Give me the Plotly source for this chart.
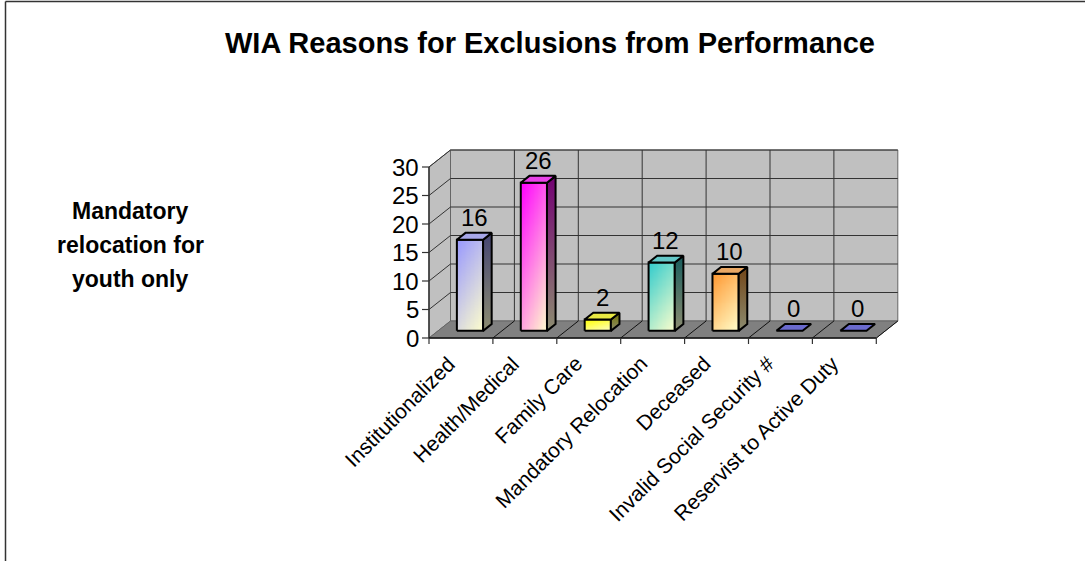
import numpy as np
import plotly.graph_objects as go

# ---- data -------------------------------------------------------------
categories = [
    "Institutionalized",
    "Health/Medical",
    "Family Care",
    "Mandatory Relocation",
    "Deceased",
    "Invalid Social Security #",
    "Reservist to Active Duty",
]
values = [16, 26, 2, 12, 10, 0, 0]
y_ticks = [0, 5, 10, 15, 20, 25, 30]
title_text = "WIA Reasons for Exclusions from Performance"
side_note = ["Mandatory", "relocation for", "youth only"]

# ---- styling ----------------------------------------------------------
bar_colors = ["#9999FF", "#FF00FF", "#FFFF00", "#33CCCC", "#FF9933", "#7070DD", "#7070DD"]
fade_color = "#FFFFCC"
wall_color = "#C0C0C0"
floor_color = "#808080"
grid_color = "#333333"
FONT = "Liberation Sans, Arial, sans-serif"

W, H = 1085, 561
PX_CAT, X0 = 63.9, 429.0        # pixels per category, left edge of front axis
PX_VAL, Y0 = 5.7, 338.0         # pixels per value unit, baseline of front axis
DEPTH_PX = (21.5, 17.0)         # oblique offset of the back wall
BAR_W = 0.41                    # bar width as fraction of category
D0, D1 = 0.42, 0.82             # bar depth span (0 = front, 1 = back wall)

x_range = [-X0 / PX_CAT, (W - X0) / PX_CAT]
y_range = [-(H - Y0) / PX_VAL, Y0 / PX_VAL]
DX = DEPTH_PX[0] / PX_CAT
DY = DEPTH_PX[1] / PX_VAL

n = len(categories)
vmax = y_ticks[-1]


def proj(c, v, d):
    """Oblique projection of (category, value, depth) onto the plane."""
    return c + d * DX, v + d * DY


def path(pts):
    return "M " + " L ".join(f"{x:.5f},{y:.5f}" for x, y in pts) + " Z"


def hex_rgb(h):
    h = h.lstrip("#")
    return tuple(int(h[i:i + 2], 16) for i in (0, 2, 4))


def mix(c1, c2, t):
    a, b = hex_rgb(c1), hex_rgb(c2)
    r = [round(a[i] * (1 - t) + b[i] * t) for i in range(3)]
    return "#%02X%02X%02X" % tuple(r)


def shade(c, k):
    a = hex_rgb(c)
    return "#%02X%02X%02X" % tuple(round(x * k) for x in a)


shapes = []
annotations = []


def seg(p, q, color=grid_color, width=1):
    shapes.append(dict(type="line", xref="x", yref="y", x0=p[0], y0=p[1], x1=q[0], y1=q[1],
                       line=dict(color=color, width=width), layer="below"))


# ---- walls and floor --------------------------------------------------
side_wall = [proj(0, 0, 0), proj(0, vmax, 0), proj(0, vmax, 1), proj(0, 0, 1)]
back_wall = [proj(0, 0, 1), proj(n, 0, 1), proj(n, vmax, 1), proj(0, vmax, 1)]
floor = [proj(0, 0, 0), proj(n, 0, 0), proj(n, 0, 1), proj(0, 0, 1)]
for poly, col in ((side_wall, wall_color), (back_wall, wall_color), (floor, floor_color)):
    shapes.append(dict(type="path", xref="x", yref="y", path=path(poly), fillcolor=col,
                       line=dict(color="#666666", width=1), layer="below"))

for v in y_ticks[1:]:
    seg(proj(0, v, 0), proj(0, v, 1))
    seg(proj(0, v, 1), proj(n, v, 1))
for k in range(1, n):
    seg(proj(k, 0, 1), proj(k, vmax, 1))
for k in range(1, n + 1):
    seg(proj(k, 0, 0), proj(k, 0, 1), color="#111111")

# front axes
seg(proj(0, 0, 0), proj(0, vmax, 0), color="#333333", width=1.5)
seg(proj(0, 0, 0), proj(n, 0, 0), color="#111111", width=1.5)
tick_x = 7 / PX_CAT
tick_y = 6 / PX_VAL
for v in y_ticks:
    seg((-tick_x, v), (0, v), color="#333333", width=1.2)
    annotations.append(dict(x=0, y=v, xref="x", yref="y", text=str(v), showarrow=False,
                            xanchor="right", yanchor="middle", xshift=-8,
                            font=dict(family=FONT, size=24, color="black")))
for k in range(n + 1):
    seg((k, 0), (k, -tick_y), color="#333333", width=1.2)

# ---- bars -------------------------------------------------------------
traces = []
nc, nr = 20, 60
for i, v in enumerate(values):
    col = bar_colors[i]
    cx0, cx1 = i + 0.5 - BAR_W / 2, i + 0.5 + BAR_W / 2
    top = [proj(cx0, v, D0), proj(cx1, v, D0), proj(cx1, v, D1), proj(cx0, v, D1)]
    if v > 0:
        fx0, fy0 = proj(cx0, 0, D0)
        fx1, fy1 = proj(cx1, v, D0)
        xe = np.linspace(fx0, fx1, nc + 1)
        ye = np.linspace(fy0, fy1, nr + 1)
        u = (np.arange(nc) + 0.5) / nc
        w = (np.arange(nr) + 0.5) / nr
        z = 0.35 * u[None, :] + 0.65 * (1 - w[:, None])
        traces.append(go.Heatmap(x=xe, y=ye, z=z, zmin=0, zmax=1, zsmooth="best",
                                 colorscale=[[0, col], [1, fade_color]], showscale=False,
                                 hoverinfo="skip"))
        front = [(fx0, fy0), (fx1, fy0), (fx1, fy1), (fx0, fy1)]
        fxs, fys = zip(*(front + front[:1]))
        traces.append(go.Scatter(x=fxs, y=fys, mode="lines", line=dict(color="black", width=2),
                                 hoverinfo="skip", showlegend=False))
        side = [proj(cx1, 0, D0), proj(cx1, 0, D1), proj(cx1, v, D1), proj(cx1, v, D0)]
        sxs, sys_ = zip(*(side + side[:1]))
        traces.append(go.Scatter(x=sxs, y=sys_, mode="lines", fill="toself",
                                 fillgradient=dict(type="vertical",
                                                   colorscale=[[0, shade(fade_color, 0.55)],
                                                               [1, shade(col, 0.45)]]),
                                 line=dict(color="black", width=2),
                                 hoverinfo="skip", showlegend=False))
        top_col = mix(col, "#C0C0C0", 0.35)
    else:
        top_col = mix(col, "#505090", 0.2)
    txs, tys = zip(*(top + top[:1]))
    traces.append(go.Scatter(x=txs, y=tys, mode="lines", fill="toself", fillcolor=top_col,
                             line=dict(color="black", width=2),
                             hoverinfo="skip", showlegend=False))
    lx, ly = proj(i + 0.5, v, (D0 + D1) / 2)
    annotations.append(dict(x=lx, y=ly, xref="x", yref="y", text=str(v), showarrow=False,
                            xanchor="center", yanchor="middle", yshift=19,
                            font=dict(family=FONT, size=24, color="black")))

# ---- category labels --------------------------------------------------
for i, name in enumerate(categories):
    annotations.append(dict(x=i + 0.5, y=0, xref="x", yref="y", text=name, showarrow=False,
                            textangle=-45, xanchor="right", yanchor="top",
                            xshift=1, yshift=-11,
                            font=dict(family=FONT, size=21, color="black")))

# ---- titles -----------------------------------------------------------
annotations.append(dict(x=550 / W, y=1 - 43 / H, xref="paper", yref="paper", text=f"<b>{title_text}</b>",
                        showarrow=False, xanchor="center", yanchor="middle",
                        font=dict(family=FONT, size=29, color="black")))
for j, line in enumerate(side_note):
    annotations.append(dict(x=130 / W, y=1 - (211 + 34 * j) / H, xref="paper", yref="paper",
                            text=f"<b>{line}</b>", showarrow=False, xanchor="center", yanchor="middle",
                            font=dict(family=FONT, size=23, color="black")))

# chart frame (top and left edges)
shapes.append(dict(type="line", xref="paper", yref="paper", x0=5.5 / W, y0=1 - 1.5 / H, x1=1, y1=1 - 1.5 / H,
                   line=dict(color="#333333", width=1.5)))
shapes.append(dict(type="line", xref="paper", yref="paper", x0=5.5 / W, y0=0, x1=5.5 / W, y1=1 - 1.5 / H,
                   line=dict(color="#333333", width=1.5)))

fig = go.Figure(traces)
fig.update_layout(
    width=W, height=H, autosize=False,
    margin=dict(l=0, r=0, t=0, b=0),
    paper_bgcolor="white", plot_bgcolor="white",
    showlegend=False,
    xaxis=dict(range=x_range, visible=False, fixedrange=True),
    yaxis=dict(range=y_range, visible=False, fixedrange=True),
    shapes=shapes, annotations=annotations,
)
fig.write_html("out.html")
